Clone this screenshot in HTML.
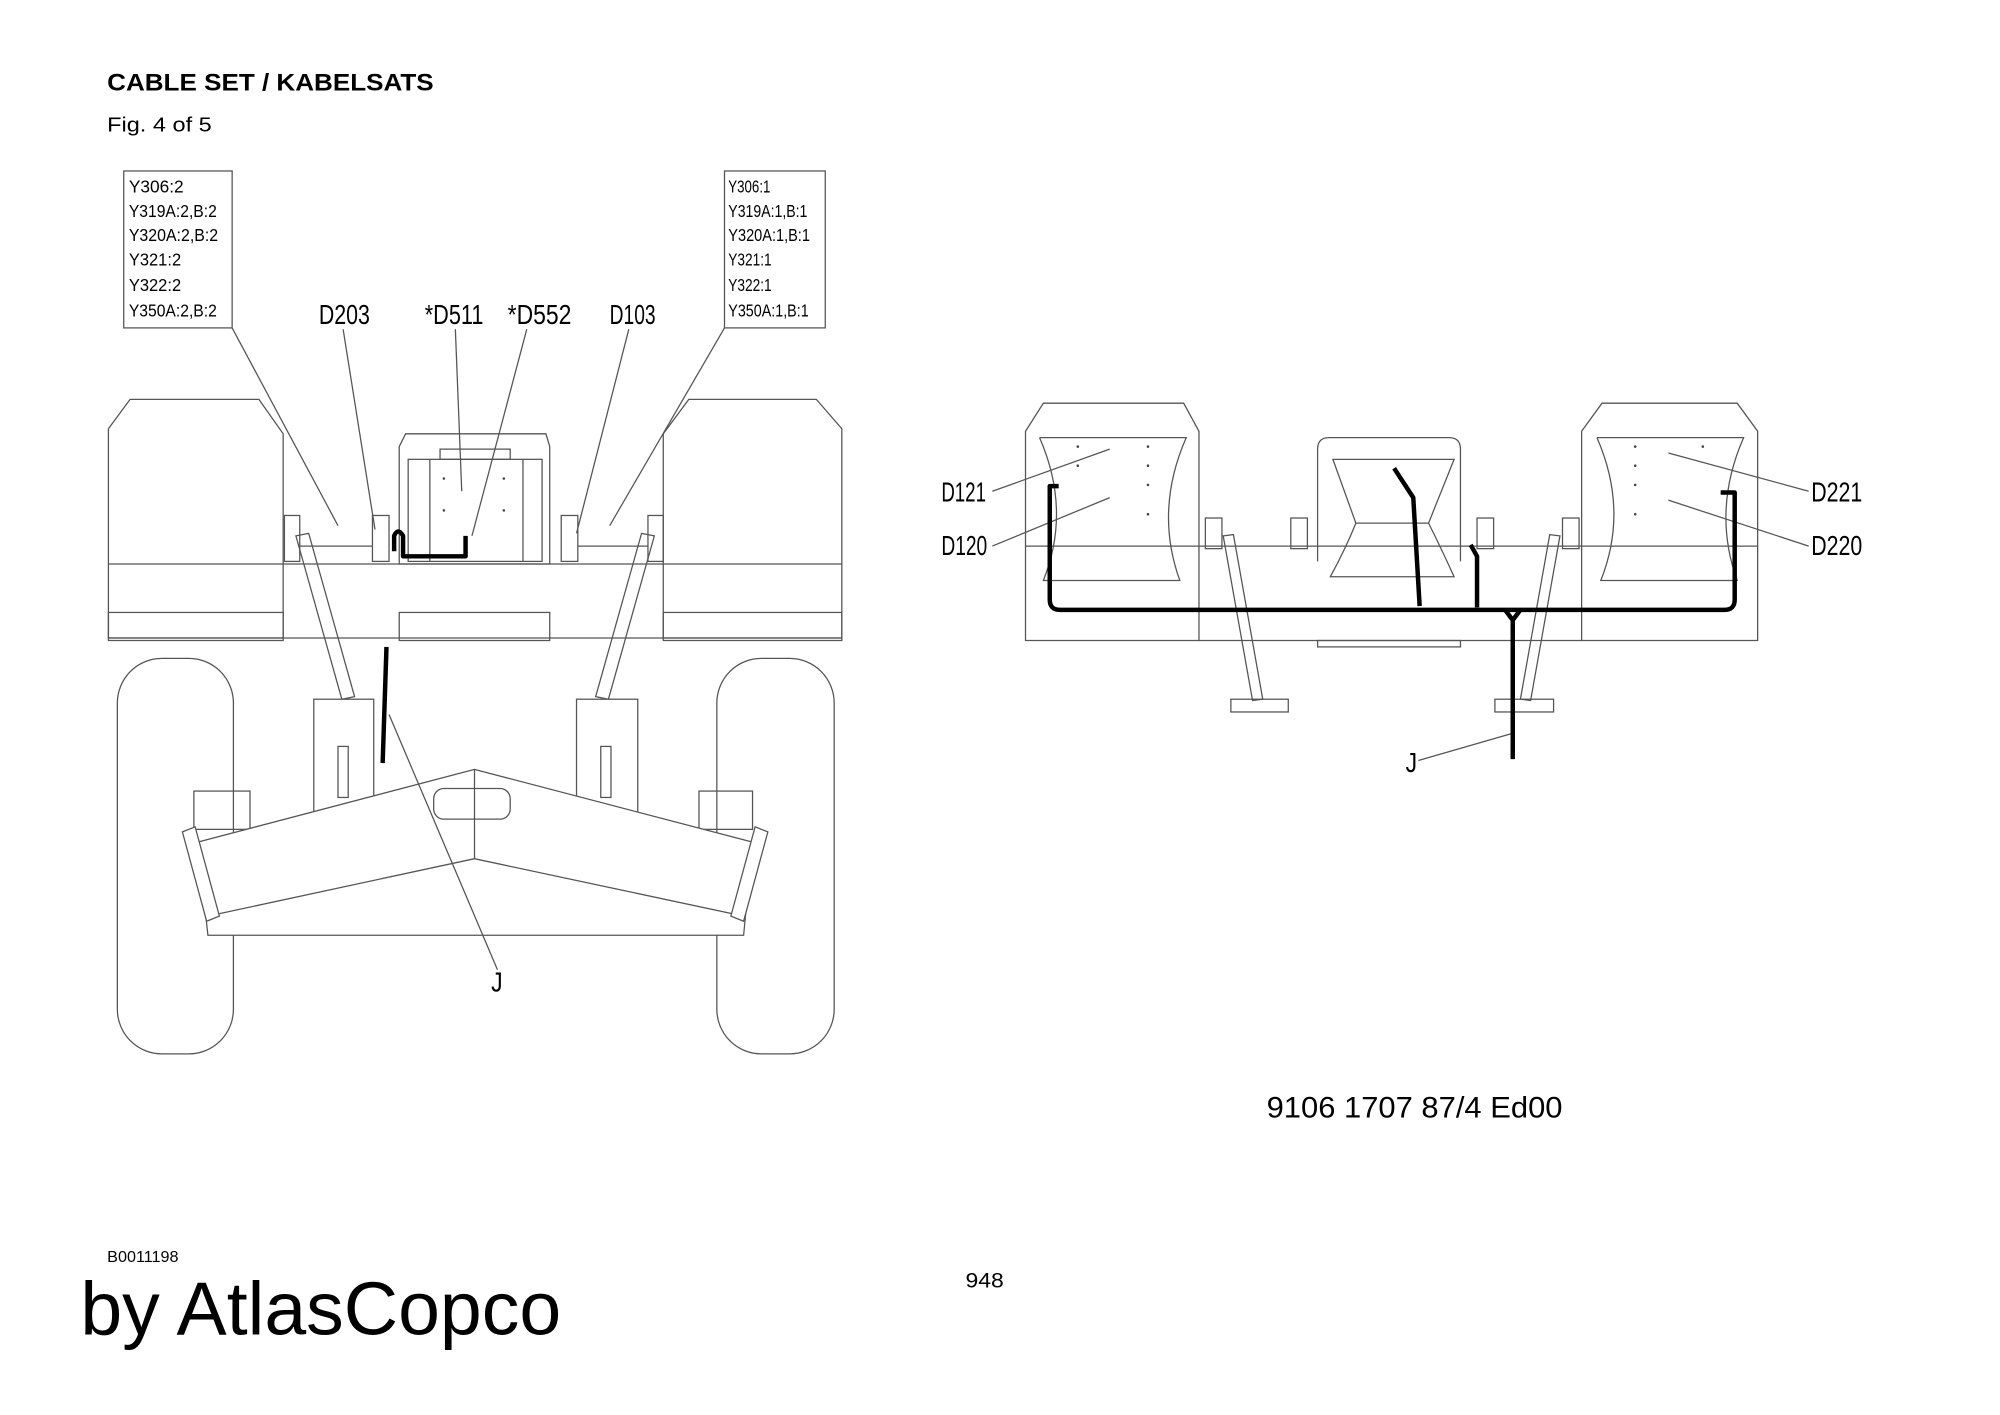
<!DOCTYPE html>
<html><head><meta charset="utf-8"><style>
html,body{margin:0;padding:0;background:#fff}
svg{display:block}
text{font-family:"Liberation Sans",sans-serif;fill:#000}
.c{font-family:"Liberation Sans",sans-serif;fill:#333;}
</style></head><body>
<svg width="2000" height="1415" viewBox="0 0 1568 1109" preserveAspectRatio="none" xmlns="http://www.w3.org/2000/svg">
<rect width="1568" height="1109" fill="#fff"/>
<text x="84" y="71" font-size="19" font-weight="bold" textLength="256" lengthAdjust="spacingAndGlyphs">CABLE SET / KABELSATS</text>
<text x="84" y="103" font-size="16" textLength="82" lengthAdjust="spacingAndGlyphs">Fig. 4 of 5</text>
<text x="993" y="876" font-size="23" fill="#222" textLength="232" lengthAdjust="spacingAndGlyphs">9106 1707 87/4  Ed00</text>
<text x="84" y="989" font-size="12" textLength="56" lengthAdjust="spacingAndGlyphs">B0011198</text>
<text x="757" y="1009" font-size="17" textLength="30" lengthAdjust="spacingAndGlyphs">948</text>
<text x="63" y="1046" font-size="59" textLength="377" lengthAdjust="spacingAndGlyphs">by AtlasCopco</text>

<g fill="none" stroke="#555" stroke-width="1">
<rect x="97" y="134" width="85" height="123"/>
<rect x="568" y="134" width="79" height="123"/>
<line x1="182" y1="257" x2="265" y2="412"/>
<line x1="269" y1="258" x2="294" y2="415"/>
<line x1="357" y1="258" x2="362" y2="385"/>
<line x1="413" y1="258" x2="370" y2="420"/>
<line x1="493" y1="258" x2="452" y2="418"/>
<line x1="568" y1="257" x2="478" y2="412"/>
<polygon points="85,336 102,313 203,313 222,340 222,502 85,502"/>
<polygon points="520,340 540,313 640,313 660,336 660,502 520,502"/>
<line x1="85" y1="442" x2="660" y2="442"/>
<line x1="85" y1="500" x2="660" y2="500"/>
<rect x="85" y="480" width="137" height="20"/>
<rect x="313" y="480" width="118" height="22"/>
<rect x="520" y="480" width="140" height="20"/>
<polygon points="313,350 318,340 428,340 431,350 431,442 313,442"/>
<rect x="320" y="360" width="105" height="80"/>
<rect x="345" y="352" width="55" height="8"/>
<line x1="337" y1="360" x2="337" y2="440"/><line x1="410" y1="360" x2="410" y2="440"/>
<rect x="223" y="404" width="12" height="36"/><rect x="292" y="404" width="13" height="36"/>
<rect x="440" y="404" width="13" height="36"/><rect x="508" y="404" width="12" height="36"/>
<line x1="235" y1="428" x2="292" y2="428"/><line x1="453" y1="428" x2="508" y2="428"/>
<polygon points="232,420 242,418 278,546 268,548"/>
<polygon points="503,418 513,420 477,548 467,546"/>
<rect x="92" y="516" width="91" height="310" rx="35"/>
<rect x="562" y="516" width="92" height="310" rx="35"/>
<rect x="246" y="548" width="47" height="92"/><rect x="265" y="585" width="8" height="40"/>
<rect x="452" y="548" width="48" height="92"/><rect x="471" y="585" width="8" height="40"/>
<rect x="152" y="620" width="44" height="30"/><rect x="548" y="620" width="42" height="30"/>
<polygon points="155,660 372,603 590,660 583,733 163,733" fill="#fff"/>
<polyline points="163,718 372,673 583,718"/>
<line x1="372" y1="603" x2="372" y2="673"/>
<polygon points="143,652 153,648 172,718 162,722" fill="#fff"/>
<polygon points="592,648 602,652 583,722 573,718" fill="#fff"/>
<rect x="340" y="618" width="60" height="24" rx="8"/>
<line x1="305" y1="560" x2="390" y2="760"/>
<polygon points="804,338 818,316 928,316 940,338 940,502 804,502"/>
<polygon points="1240,338 1256,316 1362,316 1378,338 1378,502 1240,502"/>
<path d="M1033,440 V352 Q1033,343 1042,343 H1136 Q1145,343 1145,352 V440"/>
<line x1="804" y1="428" x2="1378" y2="428"/>
<line x1="940" y1="502" x2="1240" y2="502"/>
<rect x="1033" y="502" width="112" height="5"/>
<path d="M815,343 H930 Q905,400 925,455 H818 Q840,400 815,343"/>
<path d="M1252,343 H1367 Q1342,400 1362,455 H1255 Q1277,400 1252,343"/>
<path d="M1045,360 H1140 L1120,410 Q1130,430 1140,452 H1043 Q1055,430 1063,410 Z"/>
<line x1="1063" y1="410" x2="1120" y2="410"/>
<rect x="945" y="406" width="13" height="24"/><rect x="1012" y="406" width="13" height="24"/>
<rect x="1158" y="406" width="13" height="24"/><rect x="1225" y="406" width="13" height="24"/>
<polygon points="959,420 967,419 990,548 982,549"/>
<rect x="965" y="548" width="45" height="10"/>
<polygon points="1215,419 1223,420 1200,549 1192,548"/>
<rect x="1172" y="548" width="46" height="10"/>
<line x1="778" y1="385" x2="870" y2="352"/><line x1="778" y1="428" x2="870" y2="390"/>
<line x1="1418" y1="385" x2="1308" y2="355"/><line x1="1418" y1="428" x2="1308" y2="392"/>
<line x1="1112" y1="596" x2="1185" y2="575"/>
</g>
<g fill="#444">
<circle cx="348" cy="375" r="1"/><circle cx="395" cy="375" r="1"/><circle cx="348" cy="400" r="1"/><circle cx="395" cy="400" r="1"/>
<circle cx="845" cy="350" r="1"/><circle cx="900" cy="350" r="1"/><circle cx="845" cy="365" r="1"/><circle cx="900" cy="365" r="1"/><circle cx="900" cy="380" r="1"/><circle cx="900" cy="403" r="1"/>
<circle cx="1282" cy="350" r="1"/><circle cx="1335" cy="350" r="1"/><circle cx="1282" cy="365" r="1"/><circle cx="1282" cy="380" r="1"/><circle cx="1282" cy="403" r="1"/>
</g>
<g fill="none" stroke="#000" stroke-width="3.5" stroke-linejoin="round">
<path d="M309,432 V420 Q312,413 316,420 V436 H365 V420"/>
<line x1="303" y1="507" x2="300" y2="598"/>
<path d="M830,381 H823 V470 Q823,478 831,478 H1352 Q1360,478 1360,470 V386 H1349"/>
<path d="M1093,367 L1108,390 L1113,475"/>
<path d="M1153,427 L1158,436 L1158,476"/>
<path d="M1180,478 L1186,486 L1192,478 M1186,486 V595"/>
</g>
<g class="c" font-size="14" lengthAdjust="spacingAndGlyphs">
<text x="101" y="151" textLength="43" lengthAdjust="spacingAndGlyphs">Y306:2</text>
<text x="101" y="170" textLength="69" lengthAdjust="spacingAndGlyphs">Y319A:2,B:2</text>
<text x="101" y="189" textLength="70" lengthAdjust="spacingAndGlyphs">Y320A:2,B:2</text>
<text x="101" y="208" textLength="41" lengthAdjust="spacingAndGlyphs">Y321:2</text>
<text x="101" y="228" textLength="41" lengthAdjust="spacingAndGlyphs">Y322:2</text>
<text x="101" y="248" textLength="69" lengthAdjust="spacingAndGlyphs">Y350A:2,B:2</text>
<text x="571" y="151" textLength="33" lengthAdjust="spacingAndGlyphs">Y306:1</text>
<text x="571" y="170" textLength="62" lengthAdjust="spacingAndGlyphs">Y319A:1,B:1</text>
<text x="571" y="189" textLength="64" lengthAdjust="spacingAndGlyphs">Y320A:1,B:1</text>
<text x="571" y="208" textLength="34" lengthAdjust="spacingAndGlyphs">Y321:1</text>
<text x="571" y="228" textLength="34" lengthAdjust="spacingAndGlyphs">Y322:1</text>
<text x="571" y="248" textLength="63" lengthAdjust="spacingAndGlyphs">Y350A:1,B:1</text>
</g>
<g class="c" font-size="22">
<text x="250" y="254" textLength="40" lengthAdjust="spacingAndGlyphs">D203</text>
<text x="333" y="254" textLength="46" lengthAdjust="spacingAndGlyphs">*D511</text>
<text x="398" y="254" textLength="50" lengthAdjust="spacingAndGlyphs">*D552</text>
<text x="478" y="254" textLength="36" lengthAdjust="spacingAndGlyphs">D103</text>
<text x="385" y="777" textLength="9" lengthAdjust="spacingAndGlyphs">J</text>
<text x="738" y="393" textLength="35" lengthAdjust="spacingAndGlyphs">D121</text>
<text x="738" y="435" textLength="36" lengthAdjust="spacingAndGlyphs">D120</text>
<text x="1420" y="393" textLength="40" lengthAdjust="spacingAndGlyphs">D221</text>
<text x="1420" y="435" textLength="40" lengthAdjust="spacingAndGlyphs">D220</text>
<text x="1102" y="605" textLength="9" lengthAdjust="spacingAndGlyphs">J</text>
</g>
</svg>
</body></html>
